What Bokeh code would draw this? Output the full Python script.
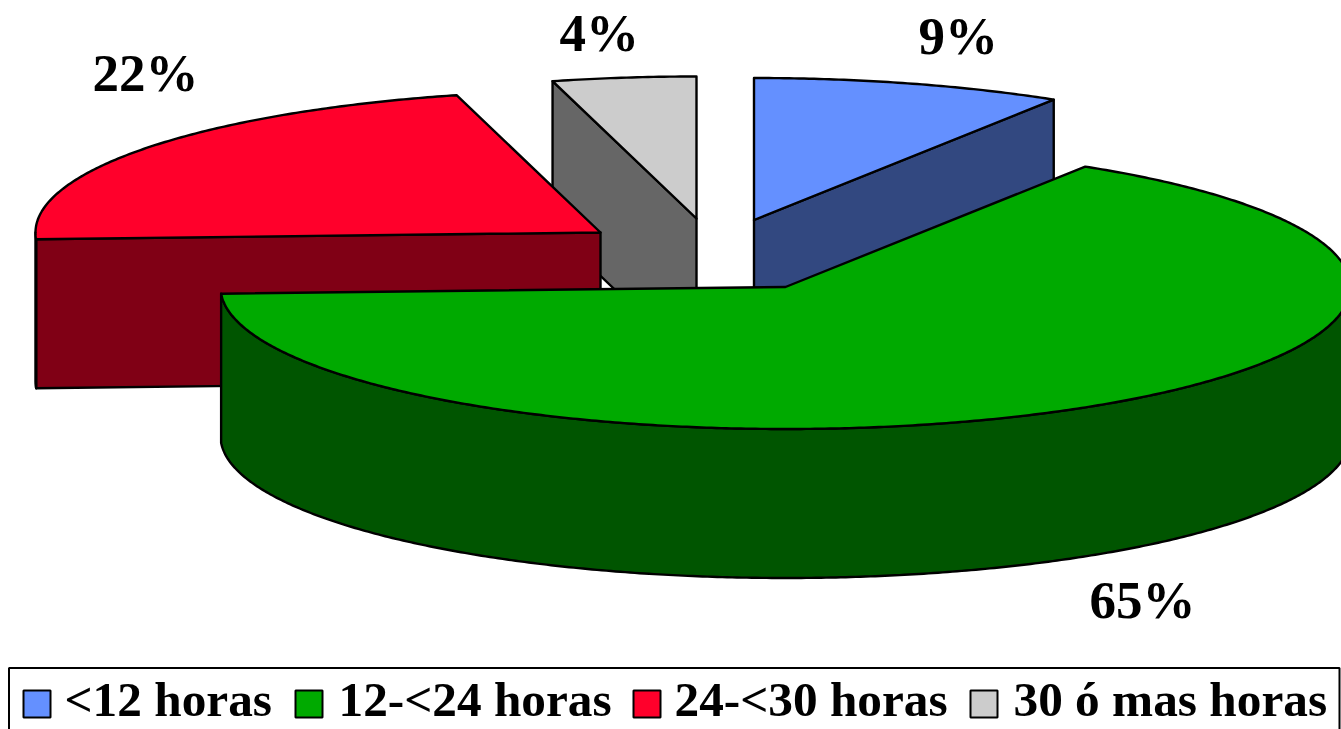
import numpy as np
from bokeh.plotting import figure
from bokeh.models import Range1d
from bokeh.core.properties import value
from bokeh.embed import file_html
from bokeh.resources import INLINE

# Data
categories = ["<12 horas", "12-<24 horas", "24-<30 horas", "30 ó mas horas"]
percent = [8.9, 65.35, 21.65, 4.1]
percent_labels = ["9%", "65%", "22%", "4%"]
top_colors = ["#6490FF", "#00AA00", "#FF002B", "#CCCCCC"]
wall_colors = ["#324880", "#005500", "#800015", "#666666"]

# Layout, in pixels of the reference
W, H = 1341, 729
RX, RY, DEPTH = 565, 142, 149
apex = [(753.5, 219.5), (785, 286.5), (600, 232), (696, 218)]
label_pos = [(918, 55), (1089, 619), (92, 92), (559, 52)]
draw_order = [3, 0, 2, 1]
legend_swatch_x = [23, 295, 633, 970]
legend_text_x = [64, 338, 674, 1013]

FONT = value("Liberation Serif")

p = figure(width=W, height=H, output_backend="svg", toolbar_location=None,
           x_range=Range1d(0, W), y_range=Range1d(H, 0),
           min_border=0, outline_line_color=None, background_fill_color="white")
p.axis.visible = False
p.grid.visible = False

# Slice angles, clockwise from 12 o'clock
ends = 90 - np.cumsum(percent) * 360.0 / sum(percent)
starts = np.concatenate(([90.0], ends[:-1]))


def rim(cx, cy, a0, a1):
    n = max(int(abs(a1 - a0)) * 2, 2)
    t = np.radians(np.linspace(a0, a1, n))
    return cx + RX * np.cos(t), cy - RY * np.sin(t)


for i in draw_order:
    cx, cy = apex[i]
    a0, a1 = starts[i], ends[i]
    sty = dict(line_color="black", line_width=2.4, line_join="round")

    # radial faces turned towards the viewer, extruded downwards
    for a, facing in ((a0, np.cos(np.radians(a0)) < 0), (a1, np.cos(np.radians(a1)) > 0)):
        if facing:
            rx, ry = rim(cx, cy, a, a)
            p.patch([cx, rx[0], rx[0], cx], [cy, ry[0], ry[0] + DEPTH, cy + DEPTH],
                    fill_color=wall_colors[i], **sty)

    # outer wall: the part of the rim on the front half
    w0, w1 = max(min(a0, a1), -180), min(max(a0, a1), 0)
    if w1 > w0:
        rx, ry = rim(cx, cy, w0, w1)
        p.patch(np.concatenate((rx, rx[::-1])), np.concatenate((ry, ry[::-1] + DEPTH)),
                fill_color=wall_colors[i], **sty)

    # top face
    rx, ry = rim(cx, cy, a0, a1)
    p.patch(np.concatenate(([cx], rx)), np.concatenate(([cy], ry)),
            fill_color=top_colors[i], **sty)

# Percentage labels
p.text([q[0] for q in label_pos], [q[1] for q in label_pos], text=percent_labels,
       text_font=FONT, text_font_style="bold", text_font_size="53px",
       text_baseline="alphabetic", text_align="left", text_color="black", y_offset=-20)

# Legend
p.quad(left=[8.5], right=[1339], top=[667.5], bottom=[760],
       fill_color="white", line_color="black", line_width=2)
p.quad(left=legend_swatch_x, right=[x + 27 for x in legend_swatch_x],
       top=[690] * 4, bottom=[717] * 4,
       fill_color=top_colors, line_color="black", line_width=2)
p.text(legend_text_x, [717] * 4, text=categories,
       text_font=FONT, text_font_style="bold", text_font_size="49.3px",
       text_baseline="alphabetic", text_align="left", text_color="black", y_offset=-18)

open("out.html", "w").write(file_html(p, INLINE))
